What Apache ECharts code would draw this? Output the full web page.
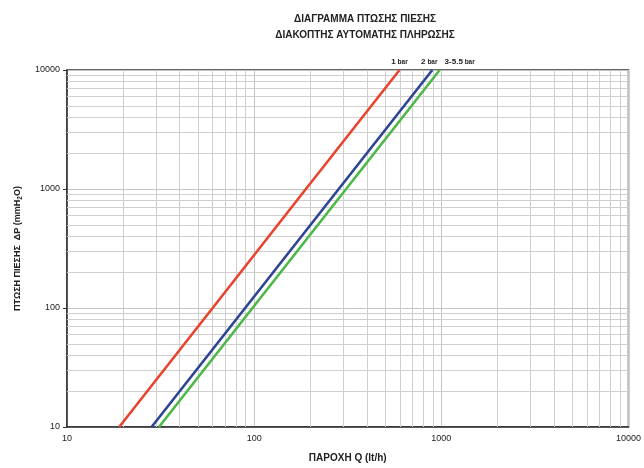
<!DOCTYPE html>
<html><head><meta charset="utf-8">
<script src="https://cdn.jsdelivr.net/npm/echarts@6/dist/echarts.min.js"></script>
<style>html,body{margin:0;padding:0;background:#fff}#c{width:644px;height:468px}</style>
</head><body><div id="c"></div>
<script>
// Data (Q lt/h, ΔP mmH2O)
var line1bar = [[19, 10], [60, 100], [189, 1000], [598, 10000]];
var line2bar = [[28.3, 10], [89.5, 100], [283, 1000], [895, 10000]];
var line35bar = [[31, 10], [98, 100], [310, 1000], [980, 10000]];
var seriesNames = ['1 bar', '2 bar', '3-5.5 bar'];
var xTicks = [10, 100, 1000, 10000];
var yTicks = [10, 100, 1000, 10000];
var minorX = [20,30,40,50,60,70,80,90,200,300,400,500,600,700,800,900,2000,3000,4000,5000,6000,7000,8000,9000];
var minorY = minorX.slice();

var FONT = 'Liberation Sans, Arial, sans-serif';
var chart = echarts.init(document.getElementById('c'), null, {renderer: 'canvas'});

function mk(data, name, color, offX) {
  var parts = name.split(' ');
  return {
    type: 'line', name: name, data: data, symbol: 'none', showSymbol: false,
    lineStyle: {color: color, width: 2.6}, itemStyle: {color: color},
    silent: true, z: 5,
    markPoint: {
      silent: true, animation: false,
      symbol: 'circle', symbolSize: 1, itemStyle: {color: 'rgba(0,0,0,0)'},
      label: {
        show: true, position: 'top', distance: 4, offset: [offX, 0],
        formatter: '{n|' + parts[0] + '}{b| ' + parts[1] + '}',
        rich: {
          n: {fontFamily: FONT, fontWeight: 'bold', fontSize: 8, color: '#222', lineHeight: 10, verticalAlign: 'bottom'},
          b: {fontFamily: FONT, fontWeight: 'bold', fontSize: 6.5, color: '#222', lineHeight: 10, verticalAlign: 'bottom', padding: [0, 0, 0, 0]}
        }
      },
      data: [{coord: data[data.length - 1]}]
    }
  };
}

var gridLines = {
  type: 'line', data: [], silent: true, z: 1,
  markLine: {
    silent: true, symbol: ['none', 'none'], animation: false,
    label: {show: false},
    lineStyle: {color: '#cfcfcf', width: 1, type: 'solid'},
    data: minorX.map(function (v) { return {xAxis: v}; })
      .concat(minorY.map(function (v) { return {yAxis: v}; }))
  }
};

chart.setOption({
  animation: false,
  backgroundColor: '#fff',
  title: {
    text: 'ΔΙΑΓΡΑΜΜΑ ΠΤΩΣΗΣ ΠΙΕΣΗΣ\nΔΙΑΚΟΠΤΗΣ ΑΥΤΟΜΑΤΗΣ ΠΛΗΡΩΣΗΣ',
    left: 360, top: 6, textAlign: 'center',
    textStyle: {fontFamily: FONT, fontWeight: 'bold', fontSize: 10, color: '#222', lineHeight: 16}
  },
  grid: {left: 67, right: 12, top: 70, bottom: 36, containLabel: false,
         show: true, borderColor: '#333', borderWidth: 1.5},
  xAxis: {
    type: 'log', logBase: 10, min: xTicks[0], max: xTicks[xTicks.length - 1],
    name: 'ΠΑΡΟΧΗ Q (lt/h)', nameLocation: 'middle', nameGap: 26,
    nameTextStyle: {fontFamily: FONT, fontWeight: 'bold', fontSize: 10, color: '#222'},
    axisLine: {show: true, lineStyle: {color: '#333', width: 1.5}},
    axisTick: {show: false},
    axisLabel: {fontFamily: FONT, fontSize: 9, color: '#222', margin: 7,
      formatter: function (v) { return String(Math.round(v)); }},
    splitLine: {show: true, lineStyle: {color: '#c4c4c4', width: 1}},
    minorTick: {show: false}, minorSplitLine: {show: false}
  },
  yAxis: {
    type: 'log', logBase: 10, min: yTicks[0], max: yTicks[yTicks.length - 1],
    name: '{t|ΠΤΩΣΗ ΠΙΕΣΗΣ  ΔP (mmH}{s|2}{t|O)}', nameLocation: 'middle', nameGap: 33,
    nameTextStyle: {rich: {
      t: {fontFamily: FONT, fontWeight: 'bold', fontSize: 9, color: '#222'},
      s: {fontFamily: FONT, fontWeight: 'bold', fontSize: 6.5, color: '#222', padding: [6, 0, 0, 0]}
    }},
    axisLine: {show: true, lineStyle: {color: '#333', width: 1.5}},
    axisTick: {show: true, length: 4, inside: false, lineStyle: {color: '#333'}},
    axisLabel: {fontFamily: FONT, fontSize: 9, color: '#222', margin: 7,
      formatter: function (v) { return String(Math.round(v)); }},
    splitLine: {show: true, lineStyle: {color: '#c4c4c4', width: 1}},
    minorTick: {show: false}, minorSplitLine: {show: false}
  },
  series: [
    gridLines,
    mk(line1bar, seriesNames[0], '#e8452c', 0),
    mk(line2bar, seriesNames[1], '#2e4593', -3),
    mk(line35bar, seriesNames[2], '#4db848', 20)
  ]
});
</script></body></html>
